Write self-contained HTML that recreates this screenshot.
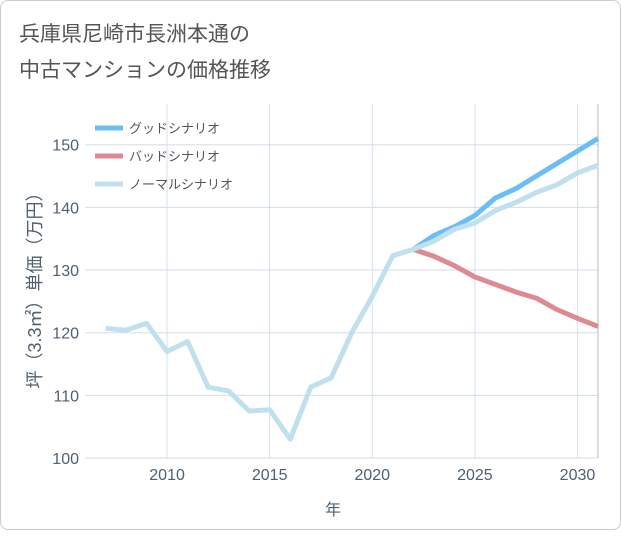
<!DOCTYPE html>
<html><head><meta charset="utf-8"><style>
body{margin:0;background:#fff;}
.card{position:absolute;left:0;top:0;width:619px;height:528px;border:1px solid #ccc;border-radius:8px;background:#fff;}
text{font-family:"Liberation Sans","Noto Sans CJK JP",sans-serif;}
</style></head><body>
<div class="card">
<svg id="svg" width="621" height="530">
<text x="18" y="40" font-size="21" fill="#555">兵庫県尼崎市長洲本通の</text>
<text x="18" y="76" font-size="21" fill="#555">中古マンションの価格推移</text>
<g id="grid"></g><g id="series"></g>
<text x="332" y="514" font-size="16" fill="#506070" text-anchor="middle">年</text>
<text transform="translate(40,285) rotate(-90)" font-size="18" fill="#506070" text-anchor="middle">坪（3.3㎡）単価（万円）</text>
</svg></div>
<script>
const years=[2007,2008,2009,2010,2011,2012,2013,2014,2015,2016,2017,2018,2019,2020,2021,2022,2023,2024,2025,2026,2027,2028,2029,2030,2031];
const normal=[120.7,120.4,121.5,117,118.6,111.3,110.7,107.5,107.7,103,111.3,112.8,120,125.8,132.3,133.3,134.6,136.5,137.5,139.5,140.8,142.4,143.6,145.5,146.7];
const goodYears=[2022,2023,2024,2025,2026,2027,2028,2029,2030,2031];
const good=[133.3,135.5,136.9,138.7,141.5,143,145,147,149,151];
const bad=[133.3,132.2,130.7,128.9,127.7,126.5,125.5,123.7,122.3,121];
const xTicks=[2010,2015,2020,2025,2030];
const yTicks=[100,110,120,130,140,150];
const L=84,R=597,T=103,B=457,x0=2006,x1=2031,y0=100,y1=156.5;
const X=v=>L+(v-x0)/(x1-x0)*(R-L), Y=v=>B-(v-y0)/(y1-y0)*(B-T);
const NS="http://www.w3.org/2000/svg";
const g=document.getElementById('grid'), s=document.getElementById('series');
function mk(p,tag,a){const e=document.createElementNS(NS,tag);for(const k in a)e.setAttribute(k,a[k]);p.appendChild(e);return e;}
xTicks.forEach(t=>{
 const l=mk(g,'line',{x1:X(t),x2:X(t),y1:T,y2:B,stroke:'#d5e3ee','stroke-width':1});
 
 
 const tx=mk(g,'text',{x:X(t),y:B+22,'font-size':16,fill:'#506070','text-anchor':'middle'});tx.textContent=t;
 
 
});
yTicks.forEach(t=>{
 const l=mk(g,'line',{x1:L,x2:R,y1:Y(t),y2:Y(t),stroke:'#d5dde6','stroke-width':1});
 
 
 const tx=mk(g,'text',{x:L-6,y:Y(t)+6,'font-size':16,fill:'#506070','text-anchor':'end'});tx.textContent=t;
 
 
});
const ax=mk(g,'line',{x1:R,x2:R,y1:T,y2:B,stroke:'#bbb'});


function line(xs,ys,c,name){const p=mk(s,'polyline',{points:xs.map((v,i)=>X(v)+','+Y(ys[i])).join(' '),fill:'none',stroke:c,'stroke-width':5,'stroke-linejoin':'round'});
 
 }
line(goodYears,good,'#6bbef5','good-scenario-line');
line(goodYears,bad,'#de8a92','bad-scenario-line');
line(years,normal,'#bfe0ec','normal-scenario-line');
[['グッドシナリオ','#6bbef5'],['バッドシナリオ','#de8a92'],['ノーマルシナリオ','#bfe0ec']].forEach((d,i)=>{
 const y=127+i*28;
 const l=mk(s,'line',{x1:94,x2:122,y1:y,y2:y,stroke:d[1],'stroke-width':5});
 
 
 const t=mk(s,'text',{x:128,y:y+5,'font-size':13,fill:'#555'});t.textContent=d[0];
 
 
});
</script></body></html>
